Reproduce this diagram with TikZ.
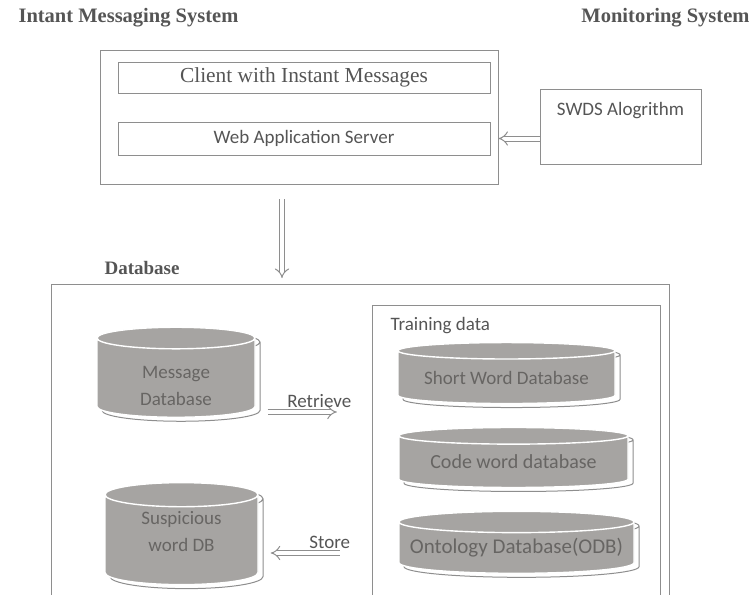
\documentclass[tikz,border=0pt]{standalone}
\usepackage{fontspec}
\setmainfont{Carlito}
\newfontfamily\serifface{Liberation Serif}
\usetikzlibrary{arrows.meta, calc, positioning, shapes.geometric}

\definecolor{linegray}{HTML}{8E8E8E}
\definecolor{textgray}{HTML}{555555}
\definecolor{dbbody}{HTML}{A6A4A2}
\definecolor{dbtext}{HTML}{676563}

\begin{document}
\begin{tikzpicture}[x=1pt, y=-1pt, font=\fontsize{19}{21}\selectfont, text=textgray,
  frame/.style={draw=linegray, line width=0.9pt},
  panel/.style={draw=linegray, line width=0.9pt, minimum height=31pt, minimum width=372pt, inner sep=0pt},
  db/.style={shape=cylinder, shape border rotate=90, aspect=0.3, draw=white, line width=1.4pt,
    fill=dbbody, preaction={draw=linegray, fill=white, line width=1pt,
      transform canvas={xshift=5pt, yshift=-4pt}},
    inner sep=0pt, align=center, text=dbtext, font=\fontsize{19}{27}\selectfont},
  heading/.style={font=\serifface\bfseries\fontsize{20.5}{23}\selectfont, text=textgray},
  dbl/.style={double, double distance=4pt, draw=linegray, line width=1pt, -{Implies[scale=1.4]}}]
  \useasboundingbox (0,0) rectangle (756,595);

  % headings
  \node[heading, anchor=west] (imstitle) at (15,18) {Intant Messaging System};
  \node[heading, anchor=east] (montitle) at (753,18) {Monitoring System};
  \node[heading, anchor=west, font=\serifface\bfseries\fontsize{19}{21}\selectfont] (dbtitle) at (101,268) {Database};

  % instant messaging system
  \node[frame, minimum width=398pt, minimum height=134pt, inner sep=0pt] (ims) at (299,117) {};
  \node[panel, font=\serifface\fontsize{21.4}{23}\selectfont] (client) at (304,77.5) {Client with Instant Messages};
  \node[panel, minimum height=33pt] (web) at (304,138.5) {Web Application Server};

  % monitoring system
  \node[frame, minimum width=161pt, minimum height=75pt, inner sep=0pt] (swds) at (620.5,126.5) {};
  \node[below=10pt of swds.north] (swdslabel) {SWDS Alogrithm};
  \draw[dbl] (swds.west |- web) -- (ims.east |- web);

  % database
  \node[minimum width=617pt, minimum height=310pt, inner sep=0pt] (dbarea) at (360.5,440) {};
  \draw[frame] (dbarea.south west) |- (dbarea.north east) -- (dbarea.south east);
  \node[minimum width=287pt, minimum height=289pt, inner sep=0pt] (train) at (516.5,450.5) {};
  \draw[frame] (train.south west) |- (train.north east) -- (train.south east);
  \node[anchor=west] (trainlabel) at (387,326) {Training data};
  \coordinate (dbentry) at (282,285);
  \draw[dbl, shorten <=15pt, shorten >=7pt] (ims.south -| dbentry) -- (dbentry);

  % (strut / empty line push the two-line texts off centre, as printed)
  \node[db, minimum width=158pt, minimum height=90pt] (msgdb) at (176,378) {\rule{0pt}{28pt}Message\\Database};
  \node[db, minimum width=153pt, minimum height=102pt] (susdb) at (181.5,540) {Suspicious\\word DB\\[-9pt]\mbox{}};
  \node[db, aspect=0.1, minimum width=217pt, minimum height=61pt, font=\fontsize{19}{21}\selectfont] (shortdb) at (506.5,377.5) {Short Word Database};
  \node[db, aspect=0.1, minimum width=229pt, minimum height=60pt, font=\fontsize{20}{22}\selectfont] (codedb) at (513.5,462) {Code word database};
  \node[db, aspect=0.1, minimum width=235pt, minimum height=62pt, font=\fontsize{21}{23}\selectfont] (ontodb) at (516.5,548) {Ontology Database(ODB)};

  \draw[dbl, shorten <=12pt, shorten >=36pt] (msgdb.east |- 0,412) -- (train.west |- 0,412)
    node[midway, above=1pt, xshift=5pt] {Retrieve};
  \draw[dbl, shorten <=33pt, shorten >=12pt] (train.west |- 0,553) -- (susdb.east |- 0,553)
    node[midway, above=1pt, xshift=14pt] {Store};
\end{tikzpicture}
\end{document}
